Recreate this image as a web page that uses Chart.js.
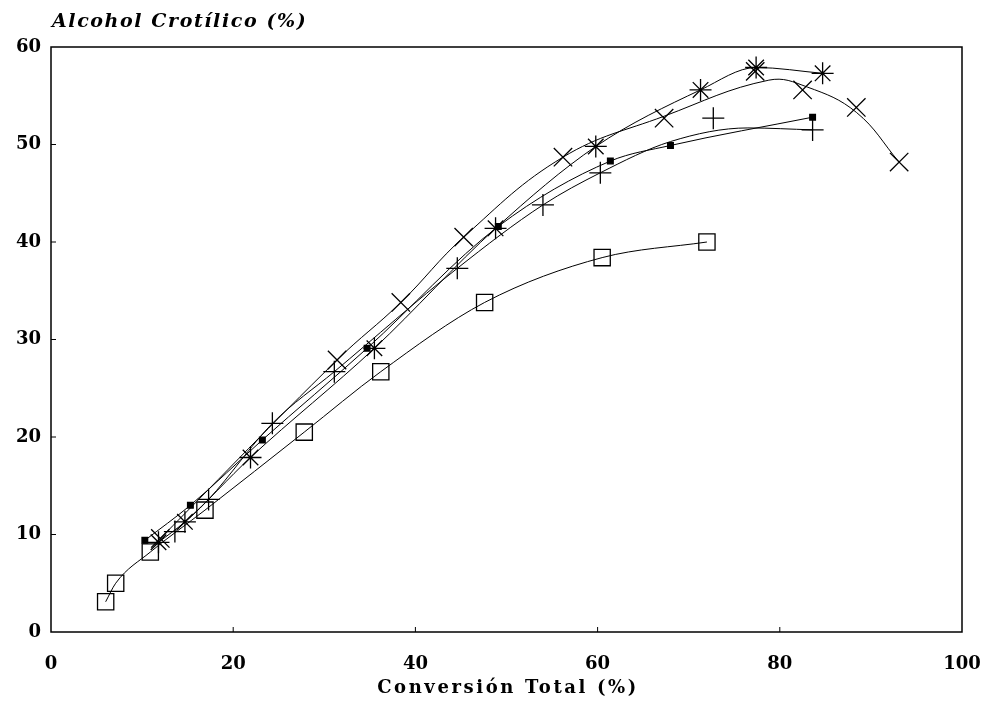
<!DOCTYPE html>
<html>
<head>
<meta charset="utf-8">
<script src="https://cdn.jsdelivr.net/npm/chart.js@4.4.0/dist/chart.umd.min.js"></script>
<style>
  body { margin: 0; background: #fff; }
  #wrap { width: 987px; height: 708px; }
</style>
</head>
<body>
<div id="wrap"><canvas id="chart" width="987" height="708"></canvas></div>
<script>
// values: Conversión Total (%) vs Alcohol Crotílico (%)
const xTicks = [0, 20, 40, 60, 80, 100];
const yTicks = [0, 10, 20, 30, 40, 50, 60];

// open squares
const squareX = [6.0, 7.1, 10.9, 16.9, 27.8, 36.2, 47.6, 60.5, 72.0];
const squareY = [3.1, 5.0, 8.2, 12.5, 20.5, 26.7, 33.8, 38.4, 40.0];

// asterisks
const starX = [11.8, 14.7, 21.9, 35.5, 48.8, 59.8, 71.3, 77.4, 84.7];
const starY = [9.2, 11.3, 17.9, 29.1, 41.4, 49.8, 55.6, 57.9, 57.3];

// crosses (x)
const crossX = [12.0, 31.4, 38.4, 45.3, 56.2, 67.3, 77.3, 82.5, 88.4, 93.1];
const crossY = [9.6, 27.9, 33.8, 40.5, 48.7, 52.7, 57.5, 55.6, 53.8, 48.2];
// fitted curve through the crosses
const crossCurveX = [12.0, 31.4, 38.4, 45.3, 56.2, 67.3, 78.8, 83.0, 88.4, 93.1];
const crossCurveY = [9.6, 27.9, 33.8, 40.5, 48.7, 52.9, 56.6, 55.9, 53.3, 48.2];

// plus signs
const plusX = [13.6, 17.3, 24.3, 31.1, 44.6, 54.0, 60.3, 72.7, 83.6];
const plusY = [10.3, 13.6, 21.4, 26.7, 37.3, 43.8, 47.1, 52.7, 51.5];
const plusCurveX = [13.6, 17.3, 24.3, 31.1, 44.6, 54.0, 60.3, 68.0, 76.5, 83.6];
const plusCurveY = [10.3, 13.6, 21.4, 26.7, 37.3, 43.8, 47.1, 50.3, 51.7, 51.5];

// small filled squares
const dotX = [10.3, 15.3, 23.2, 34.7, 49.1, 61.4, 68.0, 83.6];
const dotY = [9.4, 13.0, 19.7, 29.1, 41.6, 48.3, 49.9, 52.8];

const pts = (xs, ys) => xs.map((x, i) => ({ x: x, y: ys[i] }));

const serif = '"DejaVu Serif", "Liberation Serif", serif';

function markers(xs, ys, style, radius, fill) {
    return {
        data: pts(xs, ys),
        showLine: false,
        pointStyle: style,
        pointRadius: radius,
        pointBorderWidth: 1.3,
        pointBorderColor: '#000',
        pointBackgroundColor: fill ? '#000' : 'rgba(0,0,0,0)'
    };
}

function curve(xs, ys, smooth) {
    const ds = {
        data: pts(xs, ys),
        borderColor: '#000',
        borderWidth: 1,
        pointRadius: 0,
        fill: false
    };
    if (smooth) ds.tension = 0.4;
    else ds.cubicInterpolationMode = 'monotone';
    return ds;
}

const frame = {
    id: 'frame',
    afterDraw(chart) {
        const { ctx, chartArea: a, scales } = chart;
        ctx.save();
        ctx.strokeStyle = '#000';
        ctx.lineWidth = 1.5;
        ctx.strokeRect(a.left, a.top, a.right - a.left, a.bottom - a.top);

        // small inward ticks
        ctx.lineWidth = 1;
        ctx.beginPath();
        xTicks.slice(1, -1).forEach(v => {
            const px = scales.x.getPixelForValue(v);
            ctx.moveTo(px, a.bottom);
            ctx.lineTo(px, a.bottom - 5);
        });
        yTicks.slice(1, -1).forEach(v => {
            const py = scales.y.getPixelForValue(v);
            ctx.moveTo(a.left, py);
            ctx.lineTo(a.left + 5, py);
        });
        ctx.stroke();

        ctx.fillStyle = '#000';
        ctx.textBaseline = 'middle';
        ctx.font = 'bold italic 19px ' + serif;
        ctx.textAlign = 'left';
        ctx.letterSpacing = '1.6px';
        ctx.fillText('Alcohol Crotílico (%)', a.left + 1, 22);

        ctx.font = 'bold 18px ' + serif;
        ctx.textAlign = 'center';
        ctx.letterSpacing = '2.6px';
        ctx.fillText('Conversión Total (%)', 508, 688);
        ctx.restore();
    }
};

new Chart(document.getElementById('chart'), {
    type: 'line',
    data: {
        datasets: [
            curve(squareX, squareY),
            curve(starX, starY),
            curve(crossCurveX, crossCurveY, true),
            curve(plusCurveX, plusCurveY),
            curve(dotX, dotY),
            markers(squareX, squareY, 'rect', 11.5, false),
            markers(starX, starY, 'star', 11, false),
            markers(crossX, crossY, 'crossRot', 13, false),
            markers(plusX, plusY, 'cross', 11, false),
            markers(dotX, dotY, 'rect', 4, true)
        ]
    },
    plugins: [frame],
    options: {
        responsive: false,
        devicePixelRatio: 1,
        animation: false,
        layout: { padding: { top: 47, right: 25, left: 0, bottom: 0 } },
        plugins: {
            legend: { display: false },
            tooltip: { enabled: false }
        },
        scales: {
            x: {
                type: 'linear',
                min: 0,
                max: 100,
                afterBuildTicks: s => { s.ticks = xTicks.map(v => ({ value: v })); },
                afterFit: s => {
                    s.height = 76;
                    s.paddingLeft = 0;
                    s.paddingRight = 0;
                },
                grid: { display: false, drawTicks: false },
                border: { display: false },
                ticks: {
                    color: '#000',
                    padding: 22,
                    font: { family: serif, size: 18, weight: 'bold' }
                }
            },
            y: {
                type: 'linear',
                min: 0,
                max: 60,
                afterBuildTicks: s => { s.ticks = yTicks.map(v => ({ value: v })); },
                afterFit: s => {
                    s.width = 51;
                    s.paddingTop = 0;
                    s.paddingBottom = 0;
                },
                grid: { display: false, drawTicks: false },
                border: { display: false },
                ticks: {
                    color: '#000',
                    padding: 10,
                    font: { family: serif, size: 18, weight: 'bold' }
                }
            }
        }
    }
});
</script>
</body>
</html>
